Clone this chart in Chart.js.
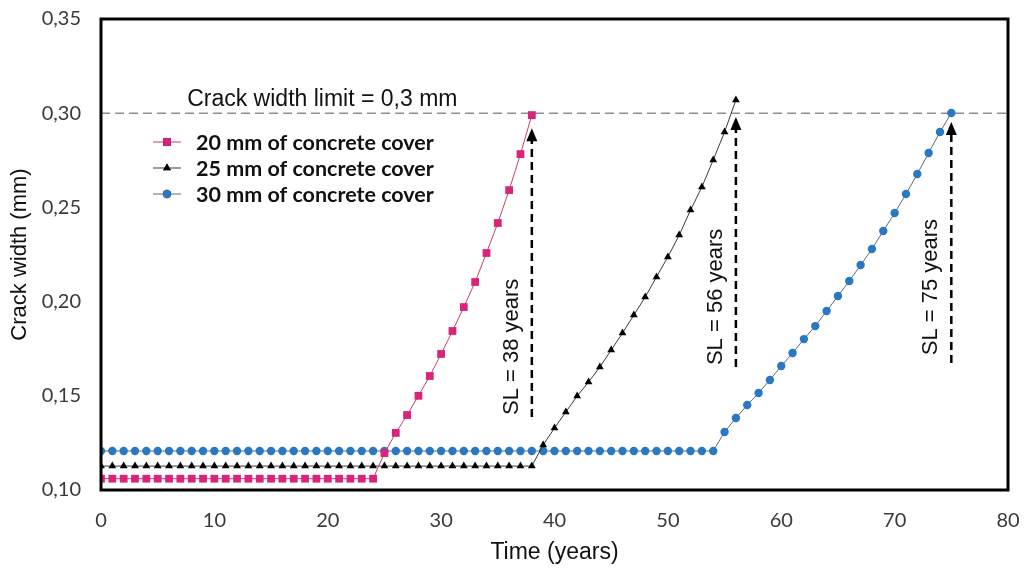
<!DOCTYPE html>
<html>
<head>
<meta charset="utf-8">
<title>Crack width vs time</title>
<script src="https://cdn.jsdelivr.net/npm/chart.js@4.4.1/dist/chart.umd.min.js"></script>
<style>
  html, body { margin: 0; padding: 0; background: #ffffff; }
  #wrap { width: 1025px; height: 570px; }
</style>
</head>
<body>
<div id="wrap"><canvas id="crackChart" width="1025" height="570"></canvas></div>
<script>
// time axis (years)
const years = [0, 1, 2, 3, 4, 5, 6, 7, 8, 9, 10, 11, 12, 13, 14, 15, 16, 17, 18, 19,
  20, 21, 22, 23, 24, 25, 26, 27, 28, 29, 30, 31, 32, 33, 34, 35, 36, 37, 38, 39,
  40, 41, 42, 43, 44, 45, 46, 47, 48, 49, 50, 51, 52, 53, 54, 55, 56, 57, 58, 59,
  60, 61, 62, 63, 64, 65, 66, 67, 68, 69, 70, 71, 72, 73, 74, 75];

const seriesLabels = ['20 mm of concrete cover', '25 mm of concrete cover', '30 mm of concrete cover'];

// crack width (mm)
const crack20 = [0.106, 0.106, 0.106, 0.106, 0.106, 0.106, 0.106, 0.106, 0.106, 0.106,
  0.106, 0.106, 0.106, 0.106, 0.106, 0.106, 0.106, 0.106, 0.106, 0.106,
  0.106, 0.106, 0.106, 0.106, 0.106,
  0.1196, 0.1303, 0.1398, 0.150, 0.1605, 0.1722, 0.1844, 0.1971, 0.2104, 0.2258,
  0.2417, 0.2592, 0.2783, 0.299];

const crack25 = [0.1127, 0.1127, 0.1127, 0.1127, 0.1127, 0.1127, 0.1127, 0.1127, 0.1127, 0.1127,
  0.1127, 0.1127, 0.1127, 0.1127, 0.1127, 0.1127, 0.1127, 0.1127, 0.1127, 0.1127,
  0.1127, 0.1127, 0.1127, 0.1127, 0.1127, 0.1127, 0.1127, 0.1127, 0.1127, 0.1127,
  0.1127, 0.1127, 0.1127, 0.1127, 0.1127, 0.1127, 0.1127, 0.1127, 0.1127,
  0.1239, 0.1329, 0.1414, 0.1499, 0.1573, 0.1653, 0.1743, 0.1833, 0.1929, 0.2024,
  0.2131, 0.2237, 0.2353, 0.2486, 0.2608, 0.2752, 0.290, 0.307];

const crack30 = [0.1207, 0.1207, 0.1207, 0.1207, 0.1207, 0.1207, 0.1207, 0.1207, 0.1207, 0.1207,
  0.1207, 0.1207, 0.1207, 0.1207, 0.1207, 0.1207, 0.1207, 0.1207, 0.1207, 0.1207,
  0.1207, 0.1207, 0.1207, 0.1207, 0.1207, 0.1207, 0.1207, 0.1207, 0.1207, 0.1207,
  0.1207, 0.1207, 0.1207, 0.1207, 0.1207, 0.1207, 0.1207, 0.1207, 0.1207, 0.1207,
  0.1207, 0.1207, 0.1207, 0.1207, 0.1207, 0.1207, 0.1207, 0.1207, 0.1207, 0.1207,
  0.1207, 0.1207, 0.1207, 0.1207, 0.1207,
  0.1308, 0.1382, 0.1451, 0.1515, 0.1584, 0.1658, 0.1727, 0.1801, 0.1870, 0.1950,
  0.2030, 0.2109, 0.2194, 0.2279, 0.2375, 0.2470, 0.2571, 0.2677, 0.2789, 0.290, 0.3001];

// crack width limit and service life arrows
const crackLimit = 0.30;
const slYears = [38, 56, 75];
const slFrom = [0.1387, 0.1653, 0.1674];
const slTo = [0.292, 0.298, 0.2953];
const slTexts = ['SL = 38 years', 'SL = 56 years', 'SL = 75 years'];
const slTextY = [0.176, 0.2025, 0.2077];

const yTicks = [0.10, 0.15, 0.20, 0.25, 0.30, 0.35];

function toPoints(values) {
  return values.map((v, i) => ({ x: years[i], y: v }));
}

const styles = [
  { line: '#c4416a', fill: '#d8247a', shape: 'rect', radius: 5.5 },
  { line: '#3a3a3a', fill: '#000000', shape: 'triangle', radius: 4.5 },
  { line: '#5b6b80', fill: '#2a78c2', shape: 'circle', radius: 4.2 }
];

const seriesData = [crack20, crack25, crack30];

const datasets = seriesData.map((vals, i) => ({
  label: seriesLabels[i],
  data: toPoints(vals),
  borderColor: styles[i].line,
  borderWidth: 1,
  backgroundColor: styles[i].fill,
  pointBackgroundColor: styles[i].fill,
  pointBorderColor: styles[i].fill,
  pointBorderWidth: 0,
  pointStyle: styles[i].shape,
  pointRadius: styles[i].radius,
  tension: 0,
  fill: false
}));

const textFont = '"Liberation Sans", Arial, sans-serif';
const tickFont = 'Lato, "Open Sans", sans-serif';

// dashed limit line, drawn under the data
const limitPlugin = {
  id: 'limitLine',
  beforeDatasetsDraw(chart) {
    const { ctx, chartArea, scales } = chart;
    const y = scales.y.getPixelForValue(crackLimit);
    ctx.save();
    ctx.strokeStyle = '#8a8f99';
    ctx.lineWidth = 1.5;
    ctx.setLineDash([9, 5]);
    ctx.beginPath();
    ctx.moveTo(chartArea.left, y);
    ctx.lineTo(chartArea.right, y);
    ctx.stroke();
    ctx.setLineDash([]);
    ctx.fillStyle = '#111';
    ctx.font = '23px ' + textFont;
    ctx.textAlign = 'left';
    ctx.textBaseline = 'alphabetic';
    ctx.fillText('Crack width limit = 0,3 mm', scales.x.getPixelForValue(7.6), y - 7);
    ctx.restore();
  }
};

// frame, service life arrows and the in-plot legend
const overlayPlugin = {
  id: 'overlay',
  afterDatasetsDraw(chart) {
    const { ctx, chartArea, scales } = chart;
    ctx.save();

    // arrows
    slYears.forEach((yr, i) => {
      const x = scales.x.getPixelForValue(yr);
      const yb = scales.y.getPixelForValue(slFrom[i]);
      const yt = scales.y.getPixelForValue(slTo[i]);
      ctx.strokeStyle = '#000';
      ctx.lineWidth = 2.5;
      ctx.setLineDash([8, 5]);
      ctx.beginPath();
      ctx.moveTo(x, yb);
      ctx.lineTo(x, yt + 10);
      ctx.stroke();
      ctx.setLineDash([]);
      ctx.fillStyle = '#000';
      ctx.beginPath();
      ctx.moveTo(x, yt);
      ctx.lineTo(x - 5.5, yt + 13);
      ctx.lineTo(x + 5.5, yt + 13);
      ctx.closePath();
      ctx.fill();

      // rotated label
      ctx.save();
      ctx.translate(x - 20, scales.y.getPixelForValue(slTextY[i]));
      ctx.rotate(-Math.PI / 2);
      ctx.font = '22px ' + textFont;
      ctx.textAlign = 'center';
      ctx.textBaseline = 'middle';
      ctx.fillStyle = '#111';
      ctx.fillText(slTexts[i], 0, 0);
      ctx.restore();
    });

    // frame
    ctx.strokeStyle = '#000';
    ctx.lineWidth = 3;
    ctx.strokeRect(chartArea.left, chartArea.top, chartArea.right - chartArea.left, chartArea.bottom - chartArea.top);

    // legend
    const lx = chartArea.left + 52;
    const rows = [142, 168, 194];
    chart.data.datasets.forEach((ds, i) => {
      const y = rows[i];
      ctx.strokeStyle = styles[i].line;
      ctx.lineWidth = 1;
      ctx.beginPath();
      ctx.moveTo(lx, y);
      ctx.lineTo(lx + 28, y);
      ctx.stroke();
      Chart.helpers.drawPoint(ctx, {
        pointStyle: styles[i].shape,
        radius: styles[i].radius,
        borderWidth: 0,
        rotation: 0
      }, lx + 14, y);
      ctx.fillStyle = styles[i].fill;
      ctx.fill();
      ctx.fillStyle = '#111';
      ctx.font = 'bold 21.5px ' + tickFont;
      ctx.textAlign = 'left';
      ctx.textBaseline = 'middle';
      ctx.fillText(ds.label, lx + 43, y + 1);
    });

    ctx.restore();
  }
};

const ctx = document.getElementById('crackChart').getContext('2d');

new Chart(ctx, {
  type: 'line',
  data: { datasets: datasets },
  options: {
    responsive: false,
    animation: false,
    devicePixelRatio: 1,
    layout: { padding: { top: 19, right: 17, left: 0, bottom: 0 } },
    plugins: {
      legend: { display: false },
      tooltip: { enabled: false }
    },
    scales: {
      x: {
        type: 'linear',
        min: 0,
        max: 80,
        grid: { display: false, drawTicks: false },
        border: { display: false },
        ticks: {
          stepSize: 10,
          padding: 19,
          color: '#3a3a3a',
          font: { family: tickFont, size: 20 }
        },
        title: {
          display: true,
          text: 'Time (years)',
          color: '#111',
          font: { family: textFont, size: 23 },
          padding: { top: 0, bottom: 4 }
        },
        afterFit(scale) {
          scale.height = 80;
          scale.paddingLeft = 0;
          scale.paddingRight = 0;
        }
      },
      y: {
        type: 'linear',
        min: 0.10,
        max: 0.35,
        grid: { display: false, drawTicks: false },
        border: { display: false },
        afterBuildTicks(scale) {
          scale.ticks = yTicks.map(v => ({ value: v }));
        },
        ticks: {
          padding: 20,
          color: '#3a3a3a',
          font: { family: tickFont, size: 20 },
          callback: (v) => Number(v).toFixed(2).replace('.', ',')
        },
        title: {
          display: true,
          text: 'Crack width (mm)',
          color: '#111',
          font: { family: textFont, size: 22 },
          padding: { top: 7, bottom: 0 }
        },
        afterFit(scale) {
          scale.width = 101;
          scale.paddingTop = 0;
          scale.paddingBottom = 0;
        }
      }
    }
  },
  plugins: [limitPlugin, overlayPlugin]
});
</script>
</body>
</html>
